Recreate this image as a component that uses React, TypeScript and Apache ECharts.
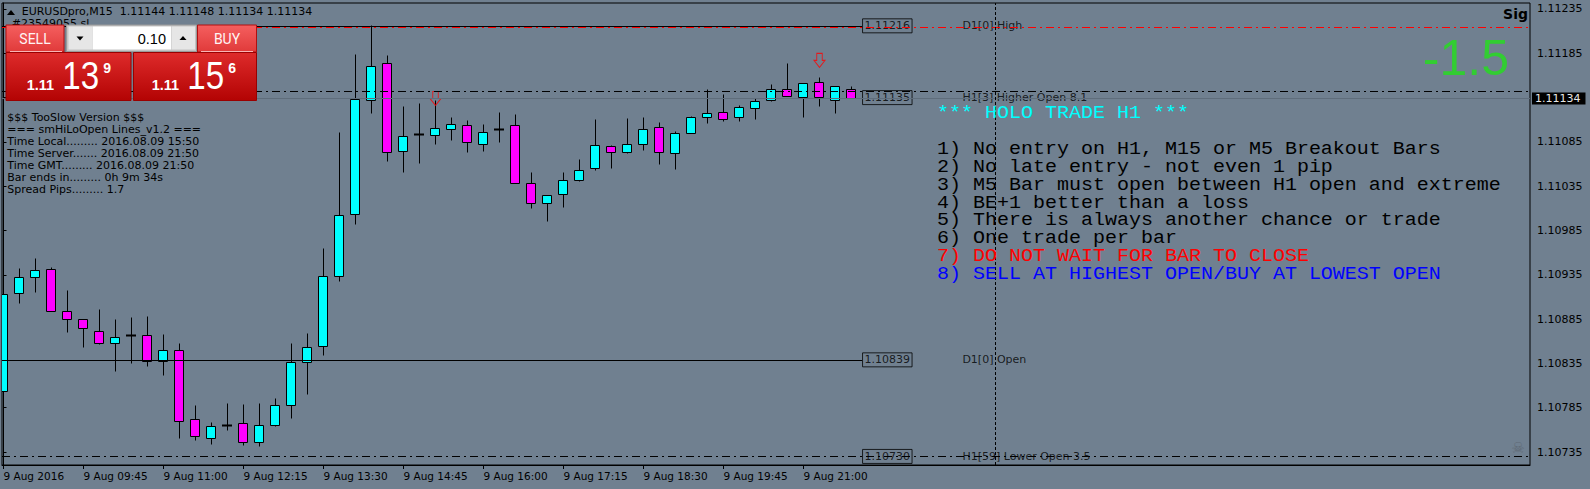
import React, { useEffect, useRef } from 'react';
import * as echarts from 'echarts';

// ---- data (M15 bars, index 0 = 9 Aug 08:30) ----
const barOpen = [1.10803,1.10914,1.10932,1.10941,1.10894,1.10884,1.10871,1.10857,1.10866,1.10867,1.10837,1.10850,1.10772,1.10750,1.10765,1.10767,1.10746,1.10765,1.10787,1.10836,1.10854,1.10933,1.11003,1.11132,1.11174,1.11074,1.11093,1.11092,1.11099,1.11104,1.11082,1.11099,1.11103,1.11038,1.11015,1.11026,1.11041,1.11055,1.11080,1.11073,1.11082,1.11101,1.11072,1.11095,1.11112,1.11118,1.11113,1.11123,1.11132,1.11144,1.11135,1.11152,1.11132,1.11144];
const barHigh = [1.10930,1.10942,1.10953,1.10943,1.10917,1.10885,1.10896,1.10885,1.10887,1.10888,1.10868,1.10858,1.10787,1.10768,1.10790,1.10789,1.10790,1.10795,1.10857,1.10869,1.10965,1.11096,1.11184,1.11216,1.11183,1.11125,1.11128,1.11132,1.11113,1.11109,1.11105,1.11118,1.11116,1.11050,1.11024,1.11051,1.11065,1.11110,1.11081,1.11111,1.11113,1.11107,1.11097,1.11114,1.11144,1.11138,1.11126,1.11134,1.11150,1.11173,1.11151,1.11158,1.11148,1.11148];
const barLow = [1.10789,1.10903,1.10915,1.10894,1.10870,1.10853,1.10856,1.10826,1.10835,1.10831,1.10821,1.10750,1.10748,1.10743,1.10759,1.10742,1.10741,1.10764,1.10773,1.10800,1.10844,1.10928,1.10992,1.11117,1.11063,1.11050,1.11061,1.11082,1.11087,1.11073,1.11074,1.11084,1.11038,1.11010,1.10995,1.11011,1.11040,1.11053,1.11055,1.11072,1.11075,1.11059,1.11054,1.11094,1.11106,1.11108,1.11108,1.11110,1.11131,1.11136,1.11113,1.11125,1.11117,1.11134];
const barClose = [1.10913,1.10932,1.10940,1.10894,1.10884,1.10874,1.10858,1.10864,1.10866,1.10837,1.10849,1.10769,1.10753,1.10764,1.10765,1.10746,1.10765,1.10787,1.10836,1.10853,1.10933,1.11002,1.11133,1.11170,1.11073,1.11091,1.11093,1.11100,1.11105,1.11084,1.11096,1.11099,1.11038,1.11015,1.11024,1.11041,1.11053,1.11081,1.11073,1.11082,1.11099,1.11073,1.11095,1.11112,1.11117,1.11110,1.11124,1.11131,1.11144,1.11136,1.11151,1.11135,1.11147,1.11134];

const xTickBars = [0,5,10,15,20,25,30,35,40,45,50];
const xTickLabels = ['9 Aug 2016','9 Aug 09:45','9 Aug 11:00','9 Aug 12:15','9 Aug 13:30','9 Aug 14:45','9 Aug 16:00','9 Aug 17:15','9 Aug 18:30','9 Aug 19:45','9 Aug 21:00'];
const yTickValues = [1.10735,1.10785,1.10835,1.10885,1.10935,1.10985,1.11035,1.11085,1.11135,1.11185,1.11235];
const yLabelValues = [1.10735,1.10785,1.10835,1.10885,1.10935,1.10985,1.11035,1.11085,1.11185,1.11235];

const arrowBars = [27, 51];
const arrowPrices = [1.11134, 1.11177];

const levelPrices = [1.11216, 1.11135, 1.10839, 1.10730];
const levelNames = ['D1[0] High', 'H1[3] Higher Open 8.1', 'D1[0] Open', 'H1[59] Lower Open 3.5'];
const levelBoxBar = 53.66;
const levelNameBar = 59.9;

const dayHighPrice = 1.11216;
const redLinePrice = 1.11214;
const higherOpenLinePrice = 1.11142;
const bidPrice = 1.11134;
const dayOpenPrice = 1.10839;
const lowerOpenPrice = 1.10730;
const daySeparatorBar = 62;

const headerText = 'EURUSDpro,M15  1.11144 1.11148 1.11134 1.11134';
const infoLines = [
  '$$$ TooSlow Version $$$',
  '=== smHiLoOpen Lines_v1.2 ===',
  'Time Local......... 2016.08.09 15:50',
  'Time Server....... 2016.08.09 21:50',
  'Time GMT......... 2016.08.09 21:50',
  'Bar ends in......... 0h 9m 34s',
  'Spread Pips......... 1.7',
];
const ruleTitle = '*** HOLO TRADE H1 ***';
const ruleLines = [
  '1) No entry on H1, M15 or M5 Breakout Bars',
  '2) No late entry - not even 1 pip',
  '3) M5 Bar must open between H1 open and extreme',
  '4) BE+1 better than a loss',
  '5) There is always another chance or trade',
  '6) One trade per bar',
  '7) DO NOT WAIT FOR BAR TO CLOSE',
  '8) SELL AT HIGHEST OPEN/BUY AT LOWEST OPEN',
];
const ruleStyles = ['k','k','k','k','k','k','r','b'];
const bigNumber = '-1.5';
const cornerText = 'Sig';

// ---- axis ranges ----
const X_MIN = -0.09375;
const X_MAX = 95.40625;
const Y_MIN = 1.1072033;
const Y_MAX = 1.1124177;

const SANS = '"DejaVu Sans", sans-serif';
const MONO = '"Liberation Mono", "DejaVu Sans Mono", monospace';

function buildOption() {
  const candleData = barOpen.map((o, i) => [i, o, barHigh[i], barLow[i], barClose[i]]);
  const snap = (v: number) => Math.round(v - 0.5) + 0.5;

  const dashDot = [8, 4, 2, 4];

  const graphic: any[] = [];
  // header
  graphic.push({ type: 'polygon', z: 10, shape: { points: [[7, 15], [15, 15], [11, 10]] }, style: { fill: '#000' } });
  graphic.push({ type: 'text', z: 10, x: 21.7, y: 11.6, style: { text: headerText, fill: '#000', fontSize: 11, fontFamily: SANS, textAlign: 'left', textVerticalAlign: 'middle' } });
  graphic.push({ type: 'text', z: 10, x: 11.7, y: 23.5, style: { text: '#23549055 sl', fill: '#000', fontSize: 11, fontFamily: SANS, textAlign: 'left', textVerticalAlign: 'middle' } });

  // trade panel
  const btnGrad = () => new echarts.graphic.LinearGradient(0, 0, 0, 1, [{ offset: 0, color: '#f55f5f' }, { offset: 1, color: '#e03a3a' }]);
  const boxGrad = () => new echarts.graphic.LinearGradient(0, 0, 0, 1, [{ offset: 0, color: '#de2b2b' }, { offset: 1, color: '#b30303' }]);
  graphic.push({ type: 'rect', z: 20, shape: { x: 6, y: 25, width: 58, height: 27 }, style: { fill: btnGrad(), stroke: '#b01010', lineWidth: 1 } });
  graphic.push({ type: 'rect', z: 20, shape: { x: 197.5, y: 25, width: 59, height: 27 }, style: { fill: btnGrad(), stroke: '#b01010', lineWidth: 1 } });
  graphic.push({ type: 'line', z: 21, shape: { x1: 10, y1: 51.5, x2: 62, y2: 51.5 }, style: { stroke: '#f8b4b4', lineWidth: 1 } });
  graphic.push({ type: 'line', z: 21, shape: { x1: 201, y1: 51.5, x2: 253, y2: 51.5 }, style: { stroke: '#f8b4b4', lineWidth: 1 } });
  graphic.push({ type: 'text', z: 21, x: 35, y: 39, style: { text: 'SELL', fill: '#fff4f4', fontSize: 14, fontFamily: 'Roboto, sans-serif', textAlign: 'center', textVerticalAlign: 'middle' } });
  graphic.push({ type: 'text', z: 21, x: 227, y: 39, style: { text: 'BUY', fill: '#fff4f4', fontSize: 14, fontFamily: 'Roboto, sans-serif', textAlign: 'center', textVerticalAlign: 'middle' } });
  // lot control
  graphic.push({ type: 'rect', z: 20, shape: { x: 66.5, y: 25, width: 130, height: 26.5 }, style: { fill: '#c4c4c4', stroke: '#9a9a9a', lineWidth: 1 } });
  graphic.push({ type: 'rect', z: 21, shape: { x: 68.5, y: 26.5, width: 23.5, height: 23 }, style: { fill: '#e6e6e6' } });
  graphic.push({ type: 'rect', z: 21, shape: { x: 92.5, y: 26.5, width: 78.5, height: 23 }, style: { fill: '#ffffff' } });
  graphic.push({ type: 'rect', z: 21, shape: { x: 171.5, y: 26.5, width: 23.5, height: 23 }, style: { fill: '#e6e6e6' } });
  graphic.push({ type: 'polygon', z: 22, shape: { points: [[76.5, 36.5], [83.5, 36.5], [80, 40.5]] }, style: { fill: '#000' } });
  graphic.push({ type: 'polygon', z: 22, shape: { points: [[179.5, 40], [186.5, 40], [183, 36]] }, style: { fill: '#000' } });
  graphic.push({ type: 'text', z: 22, x: 166, y: 38.5, style: { text: '0.10', fill: '#000', fontSize: 14.5, fontFamily: '"Liberation Sans", sans-serif', textAlign: 'right', textVerticalAlign: 'middle' } });
  // price boxes
  graphic.push({ type: 'rect', z: 20, shape: { x: 6, y: 52.5, width: 125, height: 48 }, style: { fill: boxGrad(), stroke: '#9a0000', lineWidth: 1 } });
  graphic.push({ type: 'rect', z: 20, shape: { x: 133.5, y: 52.5, width: 123, height: 48 }, style: { fill: boxGrad(), stroke: '#9a0000', lineWidth: 1 } });
  const priceText = (x: number, text: string, big: string, sup: string) => {
    graphic.push({ type: 'text', z: 22, x, y: 84.6, style: { text, fill: '#fff', fontSize: 14.5, fontWeight: 'bold', fontFamily: '"Liberation Sans", sans-serif', textAlign: 'left', textVerticalAlign: 'middle' } });
    graphic.push({ type: 'text', z: 22, x: x + 35.5, y: 75.9, scaleX: 0.85, style: { text: big, fill: '#fff', fontSize: 39, fontFamily: '"Liberation Sans", sans-serif', textAlign: 'left', textVerticalAlign: 'middle' } });
    graphic.push({ type: 'text', z: 22, x: x + 76.5, y: 68.3, style: { text: sup, fill: '#fff', fontSize: 14, fontWeight: 'bold', fontFamily: '"Liberation Sans", sans-serif', textAlign: 'left', textVerticalAlign: 'middle' } });
  };
  priceText(26.7, '1.11', '13', '9');
  priceText(151.7, '1.11', '15', '6');

  // info block
  infoLines.forEach((t, i) => {
    graphic.push({ type: 'text', z: 10, x: 7.3, y: 117.3 + 12 * i, style: { text: t, fill: '#000', fontSize: 11, fontFamily: SANS, textAlign: 'left', textVerticalAlign: 'middle' } });
  });

  // rules block (Courier-like: short glyphs, 12px advance)
  const MONO_SIZE = 17.5;
  const MONO_SCALE = 12 / (0.6 * MONO_SIZE);
  graphic.push({ type: 'text', z: 10, x: 937, y: 113, scaleX: MONO_SCALE, style: { text: ruleTitle, fill: '#00ffff', fontSize: MONO_SIZE, fontFamily: MONO, textAlign: 'left', textVerticalAlign: 'middle' } });
  const LH = 17.8;
  const richBase = { fontSize: MONO_SIZE, fontFamily: MONO, lineHeight: LH };
  graphic.push({
    type: 'text', z: 10, x: 937, y: 149.5 - LH / 2, scaleX: MONO_SCALE,
    style: {
      text: ruleLines.map((t, i) => `{${ruleStyles[i]}|${t}}`).join('\n'),
      fontSize: MONO_SIZE, fontFamily: MONO, lineHeight: LH, textAlign: 'left', textVerticalAlign: 'top',
      rich: {
        k: Object.assign({ fill: '#000000' }, richBase),
        r: Object.assign({ fill: '#ff0000' }, richBase),
        b: Object.assign({ fill: '#0000ff' }, richBase),
      },
    },
  });

  // big number and corner labels
  graphic.push({ type: 'text', z: 10, x: 1509, y: 58.3, style: { text: bigNumber, fill: '#32cd32', fontSize: 50, fontFamily: '"Liberation Sans", sans-serif', textAlign: 'right', textVerticalAlign: 'middle' } });
  graphic.push({ type: 'text', z: 10, x: 1528, y: 14, style: { text: cornerText, fill: '#000', fontSize: 14, fontWeight: 'bold', fontFamily: SANS, textAlign: 'right', textVerticalAlign: 'middle' } });
  graphic.push({ type: 'text', z: 10, x: 1518, y: 448, style: { text: '\u2620', fill: '#5f6a76', fontSize: 15, fontFamily: SANS, textAlign: 'center', textVerticalAlign: 'middle' } });

  const hLine = (p: number, x1: number, x2: number, lineStyle: any, extra?: any) => [
    Object.assign({ coord: [x1, p], lineStyle }, extra || {}),
    { coord: [x2, p] },
  ];

  const option: any = {
    animation: false,
    backgroundColor: '#708090',
    grid: { left: 2, right: 60, top: 3, bottom: 24, show: true, borderColor: '#000', borderWidth: 1, backgroundColor: 'transparent', containLabel: false, outerBoundsMode: 'none' },
    xAxis: {
      type: 'value', min: X_MIN, max: X_MAX,
      axisLine: { show: true, lineStyle: { color: '#000', width: 1 } },
      axisTick: { show: true, length: 4, inside: false, customValues: xTickBars, lineStyle: { color: '#000' } },
      axisLabel: {
        show: true, customValues: xTickBars, align: 'left', margin: 5, color: '#000', fontSize: 10.5, fontFamily: SANS,
        formatter: (v: number) => { const i = xTickBars.indexOf(Math.round(v)); return i >= 0 ? xTickLabels[i] : ''; },
      },
      splitLine: { show: false },
    },
    yAxis: {
      type: 'value', position: 'right', min: Y_MIN, max: Y_MAX,
      axisLine: { show: true, lineStyle: { color: '#000', width: 1 } },
      axisTick: { show: true, length: 3, inside: false, customValues: yTickValues, lineStyle: { color: '#000' } },
      axisLabel: { show: true, customValues: yLabelValues, margin: 7, color: '#000', fontSize: 11, fontFamily: SANS, formatter: (v: number) => v.toFixed(5) },
      splitLine: { show: false },
    },
    series: [
      {
        type: 'custom', name: 'candles', clip: true, z: 3,
        data: candleData,
        encode: { x: 0, y: [1, 2, 3, 4] },
        renderItem: (params: any, api: any) => {
          const k = api.value(0), o = api.value(1), h = api.value(2), l = api.value(3), c = api.value(4);
          const pH = api.coord([k, h]);
          const x = snap(pH[0]);
          const yH = snap(pH[1]);
          const yL = snap(api.coord([k, l])[1]);
          const yO = snap(api.coord([k, o])[1]);
          const yC = snap(api.coord([k, c])[1]);
          const children: any[] = [
            { type: 'line', shape: { x1: x, y1: yH, x2: x, y2: yL }, style: { stroke: '#000', lineWidth: 1 } },
          ];
          if (o === c) {
            children.push({ type: 'rect', shape: { x: x - 5.5, y: yO - 1, width: 10, height: 2 }, style: { fill: '#000' } });
          } else {
            const top = Math.min(yO, yC), bot = Math.max(yO, yC);
            children.push({ type: 'rect', shape: { x: x - 5, y: top, width: 9, height: Math.max(bot - top, 1) }, style: { fill: c > o ? '#00ffff' : '#ff00ff', stroke: '#000', lineWidth: 1 } });
          }
          return { type: 'group', children };
        },
      },
      {
        type: 'line', name: 'levelLines', z: 2, silent: true, data: [], symbol: 'none',
        markLine: {
          silent: true, symbol: ['none', 'none'], animation: false,
          label: { show: false },
          data: [
            hLine(dayHighPrice, X_MIN, levelBoxBar, { color: '#000', width: 1, type: 'solid' }),
            hLine(redLinePrice, X_MIN, X_MAX, { color: '#ff0000', width: 1, type: dashDot }),
            hLine(higherOpenLinePrice, X_MIN, X_MAX, { color: '#000', width: 1, type: dashDot }),
            hLine(bidPrice, X_MIN, X_MAX, { color: '#5f6d7b', width: 1, type: 'solid' }, {
              label: { show: true, position: 'end', distance: 2, formatter: bidPrice.toFixed(5), backgroundColor: '#000', color: '#e6e6e6', fontSize: 11, fontFamily: SANS, padding: [1, 5, 0, 3], lineHeight: 11 },
            }),
            hLine(dayOpenPrice, X_MIN, levelBoxBar, { color: '#000', width: 1, type: 'solid' }),
            hLine(lowerOpenPrice, X_MIN, X_MAX, { color: '#000', width: 1, type: dashDot }),
            [{ coord: [daySeparatorBar, Y_MIN], lineStyle: { color: '#000', width: 1, type: [3, 2] } }, { coord: [daySeparatorBar, Y_MAX] }],
          ],
        },
      },
      {
        type: 'scatter', name: 'levels', z: 2, silent: true,
        symbol: 'circle', symbolSize: 1, itemStyle: { color: 'transparent' },
        data: levelPrices.map((p) => [levelBoxBar, p, p.toFixed(5)]),
        label: { show: true, position: 'right', distance: 0, formatter: (p: any) => p.value[2], color: '#000', fontSize: 11, fontFamily: SANS, borderColor: '#000', borderWidth: 1, padding: [1, 2, 1, 2], lineHeight: 12 },
      },
      {
        type: 'scatter', name: 'levelNames', z: 2, silent: true,
        symbol: 'circle', symbolSize: 1, itemStyle: { color: 'transparent' },
        data: levelPrices.map((p, i) => [levelNameBar, p, levelNames[i]]),
        label: { show: true, position: 'right', distance: 0, formatter: (p: any) => p.value[2], color: '#000', fontSize: 11, fontFamily: SANS },
      },
      {
        type: 'scatter', name: 'arrows', z: 4, silent: true,
        symbol: 'path://M3,0 L9,0 L9,7 L12,7 L6,14 L0,7 L3,7 Z', symbolSize: [11, 14],
        itemStyle: { color: 'rgba(0,0,0,0)', borderColor: '#ff0000', borderWidth: 1 },
        data: arrowBars.map((b, i) => [b, arrowPrices[i]]),
      },
    ],
    graphic,
  };
  return option;
}

export default function App() {
  const ref = useRef<HTMLDivElement>(null);
  useEffect(() => {
    if (!ref.current) return;
    const chart = echarts.init(ref.current, null, { renderer: 'svg' });
    chart.setOption(buildOption());
    return () => chart.dispose();
  }, []);
  return <div ref={ref} style={{ position: 'absolute', left: 0, top: 0, width: 1590, height: 489 }} />;
}
